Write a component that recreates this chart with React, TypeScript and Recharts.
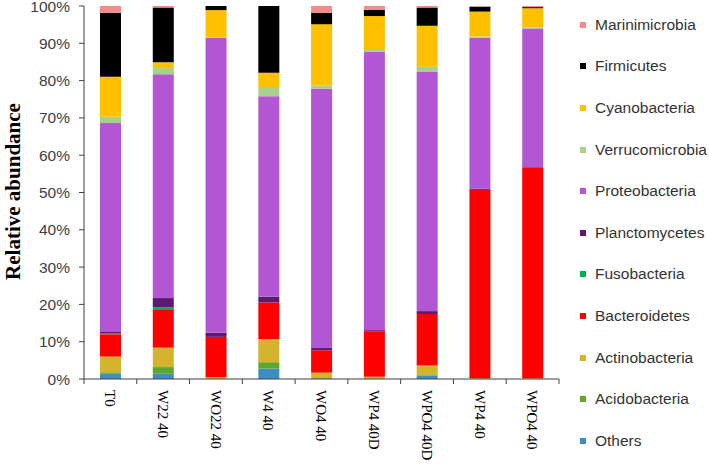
import React from 'react';
import { BarChart, Bar, XAxis, YAxis, Legend } from 'recharts';

const categories = ['T0', 'W22 40', 'WO22 40', 'W4 40', 'WO4 40', 'WP4 40D', 'WPO4 40D', 'WP4 40', 'WPO4 40'];
const others = [1.4, 1.4, 0, 2.8, 0.2, 0, 1.0, 0, 0];
const acidobacteria = [0.4, 1.8, 0, 1.7, 0, 0, 0, 0, 0];
const actinobacteria = [4.2, 5.2, 0.5, 6.2, 1.5, 0.6, 2.6, 0.3, 0.2];
const bacteroidetes = [6.0, 10.1, 10.8, 9.8, 6.0, 12.2, 13.8, 50.4, 56.4];
const fusobacteria = [0.3, 0.7, 0, 0, 0, 0, 0, 0, 0];
const planctomycetes = [0.3, 2.5, 1.1, 1.6, 0.6, 0.3, 0.8, 0.3, 0.2];
const proteobacteria = [56.0, 60.0, 79.1, 53.7, 69.5, 74.6, 64.1, 40.5, 37.2];
const verrucomicrobia = [1.7, 1.7, 0, 2.2, 0.9, 0.5, 1.4, 0.3, 0.3];
const cyanobacteria = [10.7, 1.5, 7.4, 4.1, 16.4, 9.1, 11.0, 6.7, 5.1];
const firmicutes = [17.2, 14.7, 1.1, 17.9, 3.1, 1.7, 4.9, 1.3, 0.3];
const marinimicrobia = [1.8, 0.4, 0, 0, 1.8, 1.0, 0.4, 0.2, 0.3];
const yTicks = [0, 10, 20, 30, 40, 50, 60, 70, 80, 90, 100];

const series = [
  { key: 'Others', values: others, color: '#3F8EBF' },
  { key: 'Acidobacteria', values: acidobacteria, color: '#5EA62F' },
  { key: 'Actinobacteria', values: actinobacteria, color: '#D4B42F' },
  { key: 'Bacteroidetes', values: bacteroidetes, color: '#FF0000' },
  { key: 'Fusobacteria', values: fusobacteria, color: '#00B050' },
  { key: 'Planctomycetes', values: planctomycetes, color: '#5C1A70' },
  { key: 'Proteobacteria', values: proteobacteria, color: '#B256D4' },
  { key: 'Verrucomicrobia', values: verrucomicrobia, color: '#A6D08C' },
  { key: 'Cyanobacteria', values: cyanobacteria, color: '#FFC000' },
  { key: 'Firmicutes', values: firmicutes, color: '#000000' },
  { key: 'Marinimicrobia', values: marinimicrobia, color: '#F48A8C' },
];

const data = categories.map((c, i) => {
  const row: Record<string, any> = { name: c };
  series.forEach((s) => {
    row[s.key] = s.values[i];
  });
  return row;
});

const W = 709;
const H = 464;
const M = { top: 6, right: 150, left: 0, bottom: 0 };
const Y_W = 84;
const X_H = 85;
const band = (W - M.left - M.right - Y_W) / categories.length;
const AXIS = '#404040';

const XTick = (props: any) => {
  const { x, y, payload, index } = props;
  const left = x - band / 2;
  const right = x + band / 2;
  return (
    <g>
      <line x1={left} y1={y} x2={left} y2={y + 5} stroke={AXIS} strokeWidth={1} />
      {index === categories.length - 1 && (
        <line x1={right} y1={y} x2={right} y2={y + 5} stroke={AXIS} strokeWidth={1} />
      )}
      <text
        transform={`translate(${x},${y + 11}) rotate(90)`}
        textAnchor="start"
        dy="0.35em"
        fontFamily="'Liberation Serif', 'Times New Roman', serif"
        fontSize={15}
        fill="#000"
      >
        {payload.value}
      </text>
    </g>
  );
};

const LegendContent = (props: any) => {
  const payload = props.payload || [];
  const items = [...series].reverse().map((s) => {
    const p = payload.find((it: any) => it.value === s.key || it.dataKey === s.key);
    return { value: s.key, color: p ? p.color : s.color };
  });
  return (
    <div style={{ width: 135 }}>
      {items.map((it: any) => (
        <div
          key={it.value}
          style={{ height: 41.6, display: 'flex', alignItems: 'center', whiteSpace: 'nowrap', fontFamily: "'Liberation Sans', Arial, sans-serif", fontSize: 15.5, color: '#333' }}
        >
          <span style={{ display: 'inline-block', width: 6, height: 6, background: it.color, marginLeft: 2, marginRight: 9, flex: '0 0 auto' }} />
          <span>{it.value}</span>
        </div>
      ))}
    </div>
  );
};

export default function App() {
  return (
    <div style={{ position: 'absolute', left: 0, top: 0, width: W, height: H, background: '#fff', overflow: 'hidden' }}>
      <BarChart width={W} height={H} data={data} margin={M} barSize={21}>
        <XAxis
          dataKey="name"
          height={X_H}
          interval={0}
          tickLine={false}
          tickSize={0}
          tickMargin={0}
          axisLine={{ stroke: AXIS }}
          tick={<XTick />}
        />
        <YAxis
          width={Y_W}
          domain={[0, 100]}
          allowDataOverflow
          ticks={yTicks}
          interval={0}
          tickFormatter={(v: number) => `${v}%`}
          tickSize={5}
          tickMargin={9}
          axisLine={{ stroke: AXIS }}
          tickLine={{ stroke: AXIS }}
          tick={{ fill: '#404040', fontSize: 15.5, fontFamily: "'Liberation Sans', Arial, sans-serif" }}
          label={{
            content: () => (
              <text
                transform="translate(20,191.5) rotate(-90)"
                textAnchor="middle"
                fontFamily="'Liberation Serif', 'Times New Roman', serif"
                fontWeight="bold"
                fontSize={21}
                fill="#000"
              >
                Relative abundance
              </text>
            ),
          }}
        />
        <Legend
          layout="vertical"
          align="center"
          verticalAlign="middle"
          wrapperStyle={{ left: 578, top: 4, width: 135 }}
          content={<LegendContent />}
        />
        {series.map((s) => (
          <Bar key={s.key} dataKey={s.key} stackId="a" fill={s.color} isAnimationActive={false} />
        ))}
      </BarChart>
    </div>
  );
}
